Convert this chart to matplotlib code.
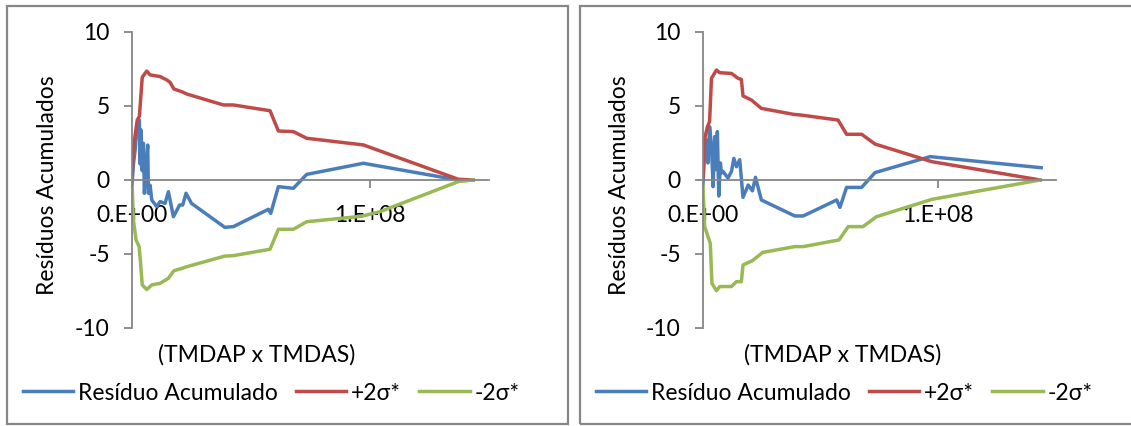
import numpy as np
import matplotlib
matplotlib.use("Agg")
import matplotlib.pyplot as plt
from matplotlib.patches import Rectangle

plt.rcParams['font.family'] = ['Lato', 'DejaVu Sans']

# x values in units of 1e8 (TMDAP x TMDAS)
# --- left chart ---
res_x_a = [0.0, 0.006, 0.013, 0.02, 0.027, 0.031, 0.034, 0.038, 0.043, 0.048, 0.052, 0.062,
           0.066, 0.069, 0.076, 0.083, 0.104, 0.118, 0.139, 0.153, 0.174, 0.2, 0.213, 0.227,
           0.25, 0.39, 0.426, 0.573, 0.583, 0.615, 0.678, 0.734, 0.972, 1.37]
res_y_a = [-0.34, 1.08, 2.0, 3.38, 3.6, 4.05, 1.08, 3.38, 0.63, 2.48, -0.9, 1.4,
           2.36, -0.9, -0.35, -1.35, -1.8, -1.46, -1.58, -0.79, -2.48, -1.69, -1.69, -0.9,
           -1.58, -3.2, -3.15, -1.98, -2.25, -0.45, -0.56, 0.38, 1.13, 0.0]
sup_x_a = [0.001, 0.006, 0.013, 0.022, 0.031, 0.036, 0.043, 0.062, 0.076, 0.118, 0.146, 0.16,
           0.176, 0.21, 0.23, 0.384, 0.426, 0.58, 0.615, 0.678, 0.734, 0.972, 1.371, 1.434]
sup_y_a = [0.45, 2.03, 3.0, 4.05, 4.3, 5.4, 6.94, 7.36, 7.1, 6.99, 6.76, 6.6,
           6.15, 5.96, 5.81, 5.07, 5.07, 4.68, 3.31, 3.27, 2.82, 2.37, 0.05, 0.0]
inf_x_a = [0.001, 0.006, 0.017, 0.03, 0.036, 0.043, 0.062, 0.083, 0.118, 0.153, 0.176, 0.21,
           0.23, 0.39, 0.426, 0.58, 0.615, 0.678, 0.734, 0.965, 1.042, 1.371, 1.434]
inf_y_a = [-0.56, -2.7, -4.05, -4.5, -5.6, -7.09, -7.4, -7.09, -6.98, -6.64, -6.13, -5.97,
           -5.86, -5.14, -5.11, -4.68, -3.33, -3.33, -2.82, -2.45, -2.14, -0.11, 0.0]

# --- right chart ---
res_x_b = [0.0, 0.007, 0.014, 0.021, 0.028, 0.036, 0.043, 0.05, 0.054, 0.061, 0.067, 0.074,
           0.078, 0.085, 0.106, 0.121, 0.131, 0.142, 0.156, 0.17, 0.192, 0.21, 0.223, 0.248,
           0.39, 0.426, 0.568, 0.582, 0.61, 0.674, 0.731, 0.965, 1.437]
res_y_b = [-0.3, 1.8, 2.7, 1.15, 3.6, 2.27, -0.45, 2.93, 0.7, 3.27, -1.08, 1.15,
           0.47, 0.58, 0.13, 0.58, 1.46, 0.9, 1.37, -1.17, -0.34, -0.73, 0.18, -1.35,
           -2.43, -2.43, -1.35, -1.85, -0.5, -0.5, 0.5, 1.58, 0.83]
sup_x_b = [0.0, 0.004, 0.009, 0.019, 0.028, 0.036, 0.057, 0.071, 0.121, 0.149, 0.163, 0.17,
           0.206, 0.248, 0.383, 0.426, 0.574, 0.61, 0.674, 0.731, 0.972, 1.433]
sup_y_b = [0.22, 2.27, 2.93, 3.6, 3.96, 6.87, 7.43, 7.25, 7.2, 6.87, 6.8, 5.68,
           5.4, 4.84, 4.44, 4.37, 4.05, 3.09, 3.09, 2.43, 1.24, 0.0]
inf_x_b = [0.0, 0.007, 0.026, 0.031, 0.038, 0.057, 0.071, 0.121, 0.142, 0.163, 0.17, 0.21,
           0.254, 0.39, 0.426, 0.578, 0.617, 0.68, 0.737, 0.972, 1.433]
inf_y_b = [-0.34, -3.15, -4.05, -4.28, -6.98, -7.48, -7.2, -7.2, -6.87, -6.87, -5.74, -5.45,
           -4.89, -4.5, -4.5, -4.05, -3.15, -3.15, -2.48, -1.31, 0.0]

labels = ['Resíduo Acumulado', '+2σ*', '-2σ*']
cores = ['#4A7EBB', '#BE4B48', '#98B954']
cinza = '#868686'
fs = 16.5

fig = plt.figure(figsize=(11.31, 4.26), dpi=100)

paineis = [
    dict(rect=[132/1131, 98/426, 357/1131, 296/426], box=7, ylab=48, xlab=257, leg=271,
         series=[(res_x_a, res_y_a), (sup_x_a, sup_y_a), (inf_x_a, inf_y_a)]),
    dict(rect=[703/1131, 98/426, 353/1131, 296/426], box=580, ylab=619, xlab=843, leg=844,
         series=[(res_x_b, res_y_b), (sup_x_b, sup_y_b), (inf_x_b, inf_y_b)]),
]

for p in paineis:
    # chart border
    fig.add_artist(Rectangle((p['box']/1131, 2/426), 561/1131, 418/426,
                             transform=fig.transFigure, fill=False,
                             edgecolor=cinza, lw=1.6))
    ax = fig.add_axes(p['rect'])
    linhas = []
    for (xs, ys), c in zip(p['series'], cores):
        l, = ax.plot(np.array(xs) * 1e8, ys, color=c, lw=2.5, solid_joinstyle='round')
        linhas.append(l)
    ax.set_xlim(0, 1.5e8)
    ax.set_ylim(-10, 10)
    ax.set_yticks([-10, -5, 0, 5, 10])
    ax.set_yticklabels(['-10', '-5', '0', '5', '10'])
    ax.set_xticks([0, 1e8])
    ax.set_xticklabels(['0.E+00', '1.E+08'])
    ax.spines['top'].set_visible(False)
    ax.spines['right'].set_visible(False)
    ax.spines['bottom'].set_position(('data', 0))
    for s in ['left', 'bottom']:
        ax.spines[s].set_color(cinza)
        ax.spines[s].set_linewidth(1.3)
    ax.tick_params(axis='both', colors=cinza, labelcolor='black', labelsize=fs,
                   length=6, width=1.3, direction='out')
    ax.tick_params(axis='y', pad=10)
    ax.tick_params(axis='x', pad=12)
    ax.set_zorder(2)
    ax.patch.set_visible(False)

    fig.text(p['ylab']/1131, 0.565, 'Resíduos Acumulados', rotation=90,
             ha='center', va='center', fontsize=fs)
    fig.text(p['xlab']/1131, (426-355)/426, '(TMDAP x TMDAS)',
             ha='center', va='center', fontsize=fs)
    fig.legend(linhas, labels, loc='center', ncol=3, frameon=False, fontsize=fs,
               bbox_to_anchor=(p['leg']/1131, (426-393)/426),
               handlelength=2.2, handletextpad=0.2, columnspacing=0.8)

fig.savefig('out.png', dpi=100)
